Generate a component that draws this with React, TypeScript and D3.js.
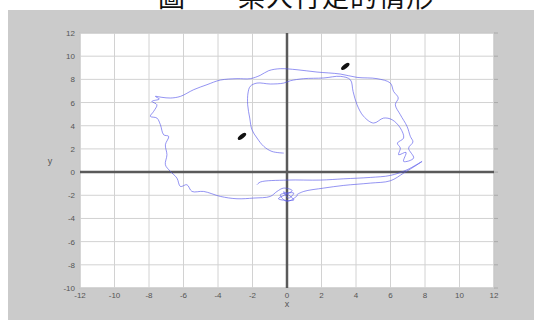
import React from "react";
import * as d3 from "d3";

// Trajectory (x, y)
const pathX = [-0.19,-0.87,-1.35,-1.74,-2.03,-2.16,-2.28,-2.26,-2.13,-1.74,-0.97,-0.19,0.19,0.97,2.13,3.09,3.67,3.83,4.06,4.44,5.02,5.6,6.09,6.57,6.76,6.4,6.57,6.47,6.9,6.76,7.34,7.05,7.3,7.15,6.96,6.57,6.28,6.45,6.18,5.99,5.22,4.06,3.09,1.74,0.58,-0.39,-1.06,-1.55,-2.13,-2.9,-3.86,-4.64,-5.41,-6.18,-6.76,-7.25,-7.63,-7.4,-7.83,-7.54,-7.73,-7.92,-7.54,-7.34,-7.15,-6.86,-7.05,-6.96,-7.05,-6.76,-6.38,-6.18,-5.8,-5.51,-4.83,-3.86,-2.9,-1.93,-0.97,-0.58,-0.19,0.3,-0.5,0.4,-0.2,0.1,0.39,-0.39,0.0,0.6,0.58,0.97,2.13,3.29,4.83,5.99,6.76,7.54,7.83,6.96,5.99,4.83,3.29,1.93,0.0,-1.55,-1.74];
const pathY = [1.64,1.78,2.22,2.94,3.65,4.66,5.81,6.82,7.4,7.68,7.6,7.68,7.88,8.06,8.12,8.26,7.97,6.96,5.81,4.81,4.23,4.66,4.52,3.8,2.94,2.5,2.07,1.5,1.7,0.92,1.21,2.07,2.6,3.08,3.94,4.95,5.81,6.4,6.96,7.68,8.06,8.17,8.46,8.63,8.83,8.92,8.75,8.35,8.06,8.06,7.94,7.54,7.11,6.53,6.39,6.45,6.53,6.3,6.1,5.81,5.24,4.81,4.66,4.09,3.22,3.08,2.36,1.5,0.63,0.06,-0.52,-1.24,-1.09,-1.67,-1.67,-2.1,-2.3,-2.24,-2.1,-1.67,-1.38,-1.6,-2.3,-2.4,-1.7,-2.24,-1.81,-1.96,-2.53,-2.0,-1.96,-1.67,-1.38,-1.15,-0.95,-0.75,-0.09,0.63,0.92,0.2,-0.29,-0.46,-0.58,-0.69,-0.69,-0.86,-1.09];

const arrowX = [3.38, -2.61];
const arrowY = [9.12, 3.08];

const xTicks = [-12, -10, -8, -6, -4, -2, 0, 2, 4, 6, 8, 10, 12];
const yTicks = [-10, -8, -6, -4, -2, 0, 2, 4, 6, 8, 10, 12];

const titleA = "圖一";
const titleB = "某人行走的情形";

export default function App() {
  const x = d3.scaleLinear().domain([-12, 12]).range([80, 494]);
  const y = d3.scaleLinear().domain([-10, 12]).range([288, 33]);
  const pts: [number, number][] = pathX.map((v, i) => [v, pathY[i]]);
  const line = d3
    .line<[number, number]>()
    .x((d) => x(d[0]))
    .y((d) => y(d[1]))
    .curve(d3.curveCatmullRom.alpha(0.5));
  const font = "'Liberation Sans', Arial, sans-serif";
  return (
    <svg
      width={534}
      height={320}
      style={{ position: "absolute", left: 0, top: 0, background: "#fff" }}
    >
      <text x={158} y={7} fontSize={27} fontFamily="'Noto Sans CJK TC', sans-serif" fill="#111">
        {titleA}
      </text>
      <text x={238} y={7} fontSize={27} fontFamily="'Noto Sans CJK TC', sans-serif" fill="#111" letterSpacing={1}>
        {titleB}
      </text>
      <rect x={8} y={10} width={526} height={310} fill="#cbcbcb" />
      <rect x={80} y={33} width={414} height={255} fill="#ffffff" stroke="#b5b5b5" strokeWidth={1} />
      {xTicks.map((t) => (
        <line key={"gx" + t} x1={x(t)} x2={x(t)} y1={33} y2={288} stroke="#d2d2d2" strokeWidth={1} />
      ))}
      {yTicks.map((t) => (
        <line key={"gy" + t} x1={80} x2={494} y1={y(t)} y2={y(t)} stroke="#d2d2d2" strokeWidth={1} />
      ))}
      {yTicks.map((t) => (
        <line key={"ty" + t} x1={494} x2={498} y1={y(t)} y2={y(t)} stroke="#aaa" strokeWidth={1} />
      ))}
      <line x1={80} x2={494} y1={y(0)} y2={y(0)} stroke="#5a5a5a" strokeWidth={2.5} />
      <line x1={x(0)} x2={x(0)} y1={33} y2={288} stroke="#5a5a5a" strokeWidth={2.5} />
      <path d={line(pts) || ""} fill="none" stroke="#5555ea" strokeWidth={0.85} strokeOpacity={0.75} />
      {arrowX.map((ax, i) => (
        <ellipse
          key={"a" + i}
          cx={x(ax)}
          cy={y(arrowY[i])}
          rx={5}
          ry={2.2}
          fill="#111"
          transform={`rotate(-38 ${x(ax)} ${y(arrowY[i])})`}
        />
      ))}
      {xTicks.map((t) => (
        <text key={"lx" + t} x={x(t)} y={298} fontSize={8} fontFamily={font} fill="#555" textAnchor="middle">
          {t}
        </text>
      ))}
      {yTicks.map((t) => (
        <text key={"ly" + t} x={75} y={y(t) + 3} fontSize={8} fontFamily={font} fill="#555" textAnchor="end">
          {t}
        </text>
      ))}
      <text x={x(0)} y={307} fontSize={9} fontFamily={font} fill="#555" textAnchor="middle">x</text>
      <text x={50} y={164} fontSize={9} fontFamily={font} fill="#555" textAnchor="middle">y</text>
    </svg>
  );
}
